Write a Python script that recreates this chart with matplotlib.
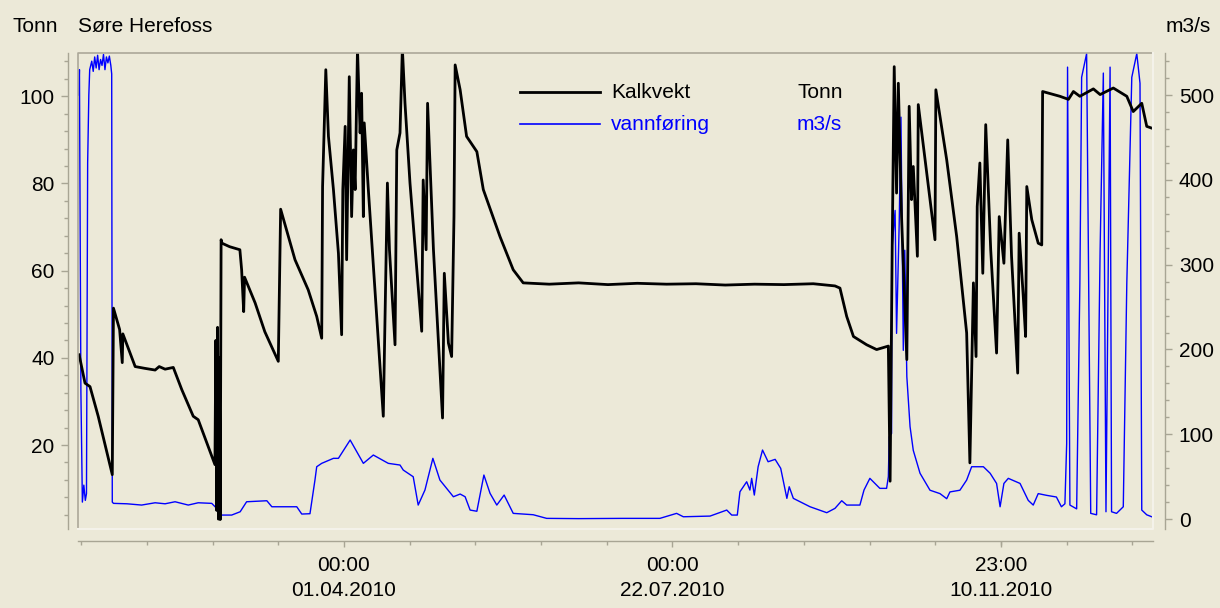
import numpy as np
import matplotlib
matplotlib.use("Agg")
from matplotlib import pyplot as plt
from matplotlib.lines import Line2D
from matplotlib.ticker import MultipleLocator, FixedLocator
import matplotlib.dates as mdates
from datetime import datetime

# Kalkvekt (Tonn), days after 01.01.2010
k_day = [-0.3, 1.7, 3.4, 6.2, 11.0, 11.4, 13.5, 14.4, 14.6, 18.8, 22, 25.6, 27, 29,
         31.8, 34.7, 38.6, 40.3, 46.0, 46.3, 46.6, 46.9, 47.2, 47.5, 47.8, 48.1, 48.4,
         51, 54.5, 55.1, 55.8, 56.1, 59.7, 63, 67.6, 68.4, 73.3, 77.8, 80.7, 82.4, 82.7,
         83.8, 84.7, 86.4, 88.1, 89.2, 89.6, 90.4, 90.9, 91.8, 92.6, 93.2, 93.8, 94.6,
         95.5, 96.0, 96.6, 96.9, 98.3, 103.4, 104.8, 105.5, 107.4, 108.0, 109.1, 109.9,
         110.8, 112.5, 116.5, 117.0, 118.0, 118.5, 120.5, 123.6, 124.2, 125.6, 126.7,
         127.5, 127.9, 129.6, 131.8, 135.3, 137.5, 143.2, 147.7, 151.1, 160, 170, 180,
         190, 200, 210, 220, 230, 240, 250, 257.4, 259.1, 261.4, 263.7, 268.2, 271.6,
         275.6, 276.2, 276.9, 277.6, 278.4, 279.0, 280.1, 281.9, 282.7, 283.5, 284.1,
         285.5, 285.8, 291.5, 291.8, 295.5, 298.9, 302.3, 303.4, 304.6, 305.5, 305.9,
         306.8, 307.8, 308.8, 310.5, 312.5, 313.4, 315.0, 316.3, 317.6, 319.7, 320.2,
         321.6, 322.4, 322.8, 324.5, 326.7, 327.9, 328.2, 334.1, 337.0, 338.7, 340.9,
         345.5, 347.8, 352.3, 356.9, 359.1, 362.0, 363.7, 365.4]
k_val = [40.7, 34.2, 33.4, 26.6, 13.2, 51.4, 46.5, 38.9, 45.5, 38.0, 37.6, 37.2, 38.0, 37.4,
         37.8, 32.7, 26.6, 25.8, 15.5, 44, 5, 47, 3, 40, 2.9, 67.1, 66.3,
         65.5, 64.8, 60.2, 50.6, 58.5, 52.6, 46, 39.2, 74.1, 62.5, 55.6, 49.5, 44.5, 79.3,
         106.1, 90.8, 78.6, 64.0, 45.3, 78.6, 93.1, 62.5, 104.5, 72.4, 87.7, 78.6, 111,
         91.6, 100.7, 72.4, 93.9, 78.6, 26.6, 80.1, 64.8, 43.0, 87.7, 91.6, 111,
         98.4, 80.1, 46.1, 80.8, 64.8, 98.4, 64.8, 26.2, 59.4, 43.4, 40.3,
         72.4, 107.2, 101.5, 90.8, 87.3, 78.6, 67.8, 60.2, 57.2, 56.9, 57.2, 56.8,
         57.1, 56.9, 57.0, 56.7, 56.9, 56.8, 57.0, 56.5, 56.0, 49.5, 44.9, 43.0, 41.9,
         42.7, 11.7, 64.8, 106.8, 77.8, 103.0, 72.4, 39.6, 97.7, 76.3, 83.9,
         63.3, 98.1, 67.1, 101.5, 85.4, 67.8, 45.7, 15.9, 57.2, 40.3, 74.7,
         84.7, 59.4, 93.5, 64.8, 41.1, 72.4, 61.7, 90.0, 63.3, 36.5, 68.6,
         54.1, 44.9, 79.3, 71.7, 66.3, 65.9, 101.1, 100.0, 99.3, 101.1, 100.0,
         101.7, 100.4, 101.9, 100.0, 96.5, 98.4, 93.1, 92.7]

# vannføring (m3/s), days after 01.01.2010
q_day = [-0.4, -0.2, 0.3, 0.8, 1.3, 1.8, 2.2, 2.6, 3.0, 3.3, 4.0, 4.5, 5.0, 5.5, 6.0, 6.5,
         7.0, 7.5, 8.0, 8.5, 9.0, 9.5, 10.0, 10.5, 10.8, 11.0, 11.4, 16, 21.0, 25.6, 29,
         32.4, 36.9, 40.3, 44.9, 46.6, 47.2, 51.7, 54.6, 56.8, 63.7, 65.4, 73.9, 75.6,
         78.4, 80.1, 80.7, 82.4, 86.4, 88.1, 92.1, 96.6, 100.0, 105.1, 109.1, 110.2,
         113.6, 115.3, 117.6, 120.3, 122.7, 127.3, 129.6, 131.3, 133.0, 135.3, 137.7,
         139.8, 142.1, 144.6, 147.7, 154.5, 159.1, 170, 185, 197.7, 203.4, 205.7, 214.8,
         220.5, 222.2, 224.1, 225.0, 227.3, 228.4, 229.0, 229.9, 231.2, 232.7, 234.6,
         237.0, 238.9, 240.4, 241.0, 241.8, 243.2, 248.9, 254.6, 257.4, 259.7, 261.4,
         265.9, 267.3, 269.3, 272.7, 275.0, 275.6, 275.9, 276.7, 276.8, 277.9, 278.4,
         279.3, 279.9, 280.7, 281.2, 281.9, 283.0, 284.1, 286.4, 289.8, 293.2, 295.5,
         296.6, 300.0, 302.3, 304.0, 308.0, 310.3, 312.5, 313.7, 315.0, 316.5, 320.5,
         323.3, 325.0, 326.7, 329.5, 332.9, 334.6, 335.8, 336.4, 336.7, 337.5, 339.8,
         340.9, 341.5, 343.2, 344.1, 344.6, 346.6, 347.8, 348.9, 349.8, 351.2, 351.7,
         353.4, 355.7, 356.9, 358.6, 360.3, 361.4, 362.0, 363.7, 365.4]
q_val = [500, 530, 150, 20, 40, 22, 30, 420, 500, 530, 540, 528, 545, 532, 547, 530,
         542, 535, 548, 530, 545, 538, 546, 535, 525, 20, 18.5, 18, 16.5, 19.2, 18,
         20.4, 16.5, 19.2, 18.5, 12.6, 4.7, 4.7, 8.6, 20.4, 21.6, 14.5, 14.5, 5.9,
         6.3, 46, 61.7, 65.7, 71.6, 71.6, 93.2, 65.7, 75.5, 65.7, 63.7, 57.8,
         49.9, 16.5, 34.2, 71.6, 46, 26.3, 29.5, 26.3, 10.6, 9.2, 51.9,
         30.3, 16.5, 28.3, 6.7, 5.1, 0.8, 0.5, 0.8, 0.8, 6.7, 2.7, 3.5,
         10.6, 4.7, 4.7, 32.2, 44, 34.2, 48, 28.3, 61.7, 81.4, 67.6,
         70.4, 59.8, 34.2, 24.4, 38.1, 24.4, 14.5, 7.5, 12.6, 21.6, 16.5,
         16.5, 34.2, 48, 36.2, 36.2, 50, 97, 101, 317, 364, 219,
         349, 474, 199, 317, 168, 109, 81, 54, 34, 30, 24,
         32, 34, 46, 61.7, 61.7, 54, 42, 14.5, 42, 48, 42,
         22, 16.5, 30, 28, 26, 14.5, 18, 89, 533, 16.5, 12,
         278, 521, 549, 199, 6.7, 5, 317, 526, 8.6, 533, 8.6,
         6.7, 14.5, 278, 521, 549, 514, 10.6, 5, 2.7]

series_names = ["Kalkvekt", "vannføring"]
series_units = ["Tonn", "m3/s"]
series_colors = ["black", "#0000ff"]
station = "Søre Herefoss"

x_ticks = [datetime(2010, 4, 1, 0), datetime(2010, 7, 22, 0), datetime(2010, 11, 10, 23)]

bg = "#ece9d8"
axis_grey = "#a8a594"
plt.rcParams["font.family"] = ["Liberation Sans", "DejaVu Sans"]
fs = 15

base = mdates.date2num(datetime(2010, 1, 1))
kx = base + np.array(k_day)
qx = base + np.array(q_day)

fig = plt.figure(figsize=(12.2, 6.08), dpi=100, facecolor=bg)
ax = fig.add_axes([0.0642, 0.1304, 0.8809, 0.7829])
ax2 = ax.twinx()
ax.set_zorder(ax2.get_zorder() + 1)
ax.patch.set_visible(False)
ax2.set_facecolor("white")

ax2.plot(qx, q_val, color=series_colors[1], lw=1.0)
ax.plot(kx, k_val, color=series_colors[0], lw=2.0)

ax.set_xlim(base - 0.58, base + 365.84)
ax.set_ylim(0.8, 110)
ax2.set_ylim(-11.4, 550)

# axis lines sit outside the plot box
for s in ["top", "right"]:
    ax.spines[s].set_visible(False)
for s in ["top", "left", "bottom"]:
    ax2.spines[s].set_visible(False)
ax.spines["left"].set_position(("outward", 7.2))
ax.spines["bottom"].set_position(("outward", 9))
ax2.spines["right"].set_position(("outward", 8.6))
for sp in [ax.spines["left"], ax.spines["bottom"], ax2.spines["right"]]:
    sp.set_color(axis_grey)
    sp.set_linewidth(1.0)

# plot box border
ax.plot([0, 0, 1], [0, 1, 1], transform=ax.transAxes, color="#aca899", lw=1.2, clip_on=False)
ax.plot([0, 1, 1], [0, 0, 1], transform=ax.transAxes, color="#f4f2ea", lw=1.5, clip_on=False)

ax.yaxis.set_major_locator(MultipleLocator(20))
ax.yaxis.set_minor_locator(MultipleLocator(4))
ax2.yaxis.set_major_locator(MultipleLocator(100))
ax2.yaxis.set_minor_locator(MultipleLocator(20))

major = mdates.date2num(x_ticks)
step = (major[1] - major[0]) / 5
ax.xaxis.set_major_locator(FixedLocator(major))
ax.xaxis.set_minor_locator(FixedLocator(major[0] + step * np.arange(-4, 13)))
ax.xaxis.set_major_formatter(mdates.DateFormatter("%H:%M\n%d.%m.%Y"))

for a in [ax, ax2]:
    a.tick_params(which="major", length=5, width=1, color=axis_grey, labelsize=fs)
    a.tick_params(which="minor", length=3, width=1, color=axis_grey)
ax.tick_params(axis="y", pad=5)
ax2.tick_params(axis="y", pad=5)
ax.tick_params(axis="x", which="major", length=4, pad=7)
for lab in ax.get_xticklabels():
    lab.set_linespacing(1.4)

# header texts
fig.text(12 / 1220, 1 - 27 / 608, series_units[0], fontsize=fs, va="center", ha="left")
fig.text(78 / 1220, 1 - 27 / 608, station, fontsize=fs, va="center", ha="left")
fig.text(1211 / 1220, 1 - 27 / 608, series_units[1], fontsize=fs, va="center", ha="right")

# table style legend
def fx(px):
    return px / 1220

def fy(py):
    return 1 - py / 608

sep = "#ece9d8"
fig.add_artist(Line2D([fx(520), fx(875)], [fy(101), fy(101)], color=sep, lw=1.2))
fig.add_artist(Line2D([fx(605), fx(605)], [fy(78), fy(136)], color=sep, lw=1.2))
fig.add_artist(Line2D([fx(792), fx(792)], [fy(78), fy(136)], color=sep, lw=1.2))
rows_y = [92, 124]
for i in range(2):
    fig.add_artist(Line2D([fx(520), fx(600)], [fy(rows_y[i]), fy(rows_y[i])],
                          color=series_colors[i], lw=2.0 if i == 0 else 1.2))
    fig.text(fx(611), fy(rows_y[i]), series_names[i], color=series_colors[i],
             fontsize=fs, va="center", ha="left")
    fig.text(fx(797), fy(rows_y[i]), series_units[i], color=series_colors[i],
             fontsize=fs, va="center", ha="left")

fig.savefig("out.png", dpi=100, facecolor=bg)
